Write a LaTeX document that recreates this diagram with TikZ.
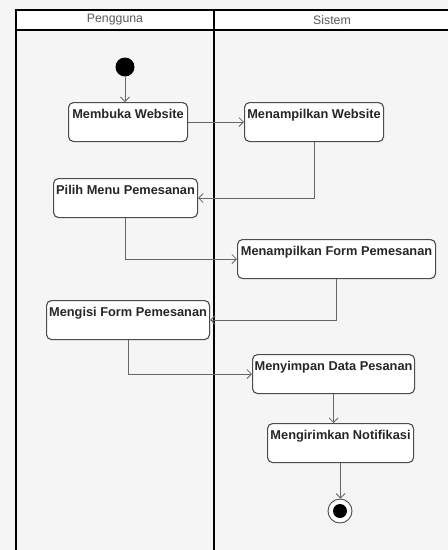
\documentclass[tikz,border=0pt]{standalone}
\usepackage{fontspec}
\setmainfont{Liberation Sans}
\usetikzlibrary{arrows.meta}
\begin{document}
\begin{tikzpicture}[x=1pt,y=-1pt,
  act/.style={draw=black!70, line width=1.1pt, rounded corners=5pt, fill=white,
    font=\bfseries\fontsize{12.8}{14}\selectfont, text=black!85,
    inner xsep=2pt, inner ysep=3pt, text height=13pt, text depth=20pt,
    anchor=north west, align=center},
  flow/.style={draw=black!60, line width=0.8pt, -{Straight Barb[length=4.5pt,width=9pt]}},
  lane/.style={draw=black, line width=1.4pt},
  hdr/.style={font=\fontsize{12.3}{14}\selectfont, text=black!65}]
\useasboundingbox (0,0) rectangle (448,550);
\fill[black!4] (0,0) rectangle (448,550);
% swimlanes
\fill[white] (16,10) rectangle (448,30);
\draw[lane] (448,10) -- (16,10) -- (16,550);
\draw[lane] (16,30) -- (448,30);
\draw[lane] (214,10) -- (214,550);
\node[hdr] (h1) at (115,20) {Pengguna};
\node[hdr] (h2) at (332,20) {Sistem};
% nodes
\node[circle, fill=black, minimum size=19pt, inner sep=0pt] (start) at (125,67) {};
\node[act, minimum width=119pt] (b1) at (68,102) {Membuka Website};
\node[act, minimum width=139pt] (b2) at (244,102) {Menampilkan Website};
\node[act, minimum width=144pt] (b3) at (53,178) {Pilih Menu Pemesanan};
\node[act, minimum width=198pt] (b4) at (237,239) {Menampilkan Form Pemesanan};
\node[act, minimum width=163pt] (b5) at (46,300) {Mengisi Form Pemesanan};
\node[act, minimum width=162pt] (b6) at (252,354) {Menyimpan Data Pesanan};
\node[act, minimum width=146pt] (b7) at (267,423) {Mengirimkan Notifikasi};
\node[circle, draw=black!70, line width=0.9pt, fill=white, minimum size=24pt, inner sep=0pt] (end) at (340,511) {};
\node[circle, fill=black, minimum size=14pt, inner sep=0pt] (endin) at (end) {};
% flows
\draw[flow] (start) -- (b1.north -| start);
\draw[flow] (b1) -- (b2);
\draw[flow] (b2.south) |- (b3.east);
\draw[flow] (b3.south) |- (b4.west);
\draw[flow] (b4.south) |- (b5.east);
\draw[flow] (b5.south) |- (b6.west);
\draw[flow] (b6.south) -- (b6.south |- b7.north);
\draw[flow] (b7.south) -- (end.north -| b7.south);
\end{tikzpicture}
\end{document}
